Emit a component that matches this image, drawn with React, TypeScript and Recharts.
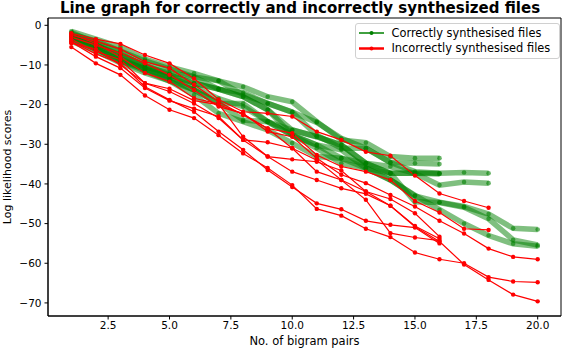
import React from "react";
import { LineChart, Line, XAxis, YAxis, ReferenceArea } from "recharts";

const X_VALUES = [1, 2, 3, 4, 5, 6, 7, 8, 9, 10, 11, 12, 13, 14, 15, 16, 17, 18, 19, 20];
const X_TICKS = [2.5, 5, 7.5, 10, 12.5, 15, 17.5, 20];
const Y_TICKS = [0, -10, -20, -30, -40, -50, -60, -70];

// Correctly synthesised files
const G1 = [-1.5, -3.5, -5.5, -8.5, -10.5, -12.1, -14.0, -15.5, -18.0, -19.3, -24.3, -28.9, -29.6, -33.1, -33.5, -33.5];
const G2 = [-2.2, -4.0, -6.5, -9.0, -11.0, -13.0, -16.1, -17.0, -19.7, -21.9, -24.5, -28.5, -31.0, -34.6, -34.8, -35.0];
const G3 = [-3.0, -5.0, -7.5, -10.0, -12.5, -14.6, -16.1, -18.0, -21.3, -26.4, -28.1, -30.2, -34.8, -37.3, -37.3, -37.3];
const G4 = [-2.5, -5.5, -8.5, -11.0, -13.5, -16.3, -19.7, -19.7, -24.3, -27.7, -30.2, -33.5, -36.0, -37.3, -37.3, -37.5];
const G5 = [-1.8, -4.5, -7.0, -10.5, -12.0, -13.0, -14.0, -17.5, -19.7, -21.9, -27.7, -31.0, -31.0, -34.6, -36.9, -37.3, -37.1, -37.3];
const G6 = [-3.5, -6.0, -9.0, -11.5, -14.0, -16.3, -19.7, -23.9, -24.3, -26.4, -28.1, -30.2, -34.8, -35.6, -37.3, -40.3, -39.5, -39.8];
const G7 = [-2.8, -5.0, -8.0, -10.5, -12.5, -14.6, -16.1, -18.0, -21.3, -27.7, -30.2, -31.4, -36.0, -39.0, -43.0, -44.6, -45.7, -47.6, -51.2, -51.5];
const G8 = [-4.0, -6.5, -9.5, -12.0, -14.0, -17.6, -22.2, -24.3, -26.4, -29.7, -33.1, -33.5, -34.8, -37.3, -44.5, -44.7, -45.9, -48.8, -54.1, -55.4];
const G9 = [-3.2, -6.0, -9.0, -11.0, -13.0, -15.5, -18.5, -20.5, -24.3, -27.7, -31.0, -34.8, -36.0, -39.0, -42.9, -46.5, -50.0, -53.0, -55.1, -55.7];

// Incorrectly synthesised files
const R1 = [-2.0, -3.5, -4.7, -7.5, -9.6, -13.4, -18.7, -21.8, -22.2, -23.0, -26.8, -28.9, -31.9, -32.9, -37.9, -42.4, -44.3, -46.0];
const R2 = [-2.5, -4.0, -6.0, -9.2, -10.8, -15.0, -19.3, -22.6, -26.0, -27.2, -32.7, -35.6, -36.9, -39.0, -44.3, -47.2, -51.3, -51.6];
const R3 = [-3.0, -5.0, -7.0, -9.6, -12.5, -16.3, -20.5, -22.2, -26.8, -28.1, -33.5, -37.7, -39.8, -42.8, -45.7, -49.3, -52.5, -56.3, -58.4, -59.0];
const R4 = [-2.2, -4.6, -8.0, -12.0, -14.2, -18.4, -19.8, -28.1, -33.1, -33.8, -34.4, -36.6, -41.9, -43.8, -47.4, -53.3];
const R5 = [-3.5, -6.6, -8.7, -14.6, -16.7, -19.7, -23.4, -28.9, -33.1, -36.9, -39.0, -41.1, -42.5, -45.5, -50.8, -54.5, -60.3, -64.2, -67.9, -69.6];
const R6 = [-4.0, -7.2, -9.6, -15.5, -18.8, -21.8, -26.8, -31.4, -36.5, -40.8, -44.9, -46.4, -49.3, -50.3, -51.0, -55.0];
const R7 = [-5.5, -9.6, -12.5, -17.7, -21.3, -23.4, -27.7, -32.3, -36.0, -40.3, -46.3, -48.0, -51.3, -53.4, -57.3, -59.0, -60.0, -63.5, -64.6, -64.8];
const R8 = [-4.5, -6.0, -10.0, -14.6, -16.0, -19.0, -20.0, -22.4, -26.0, -31.0, -36.9, -39.0, -44.0, -52.4, -53.5, -54.3];
const R9 = [-4.2, -7.9, -10.8, -15.8, -19.0, -21.0, -23.0, -28.9, -29.5, -31.0, -34.0, -39.0, -41.9, -45.5, -50.6, -53.8];

const GREEN_SERIES = [G1, G2, G3, G4, G5, G6, G7, G8, G9];
const RED_SERIES = [R1, R2, R3, R4, R5, R6, R7, R8, R9];

const rows = X_VALUES.map((x, i) => {
  const row: Record<string, number> = { x };
  GREEN_SERIES.forEach((s, k) => {
    if (i < s.length) row["g" + k] = s[i];
  });
  RED_SERIES.forEach((s, k) => {
    if (i < s.length) row["r" + k] = s[i];
  });
  return row;
});

const FONT = "'DejaVu Sans', sans-serif";
const X_DOMAIN: [number, number] = [0.05, 20.95];
const Y_DOMAIN: [number, number] = [-73.3, 1.84];

const fmtY = (v: number) => (v < 0 ? "\u2212" + Math.abs(v) : String(v));

const YLabel = (props: any) => {
  const vb = props.viewBox || {};
  const cy = (vb.y || 0) + (vb.height || 0) / 2;
  return (
    <text
      x={7.5}
      y={cy}
      transform={`rotate(-90, 7.5, ${cy})`}
      textAnchor="middle"
      dominantBaseline="central"
      fontFamily={FONT}
      fontSize={11}
      fill="#000"
    >
      Log likelihood scores
    </text>
  );
};

const XLabel = (props: any) => {
  const vb = props.viewBox || {};
  const cx = (vb.x || 0) + (vb.width || 0) / 2;
  return (
    <text x={cx} y={345} textAnchor="middle" fontFamily={FONT} fontSize={11.5} fill="#000">
      No. of bigram pairs
    </text>
  );
};

export default function App() {
  return (
    <div
      style={{
        position: "absolute",
        left: 0,
        top: 0,
        width: 562,
        height: 348,
        overflow: "hidden",
        background: "#fff",
        fontFamily: FONT,
      }}
    >
      <LineChart width={562} height={348} data={rows} margin={{ top: 18, right: 1, left: 0, bottom: 0 }}>
        <XAxis
          dataKey="x"
          type="number"
          domain={X_DOMAIN}
          allowDataOverflow
          ticks={X_TICKS}
          tickFormatter={(v: number) => v.toFixed(1)}
          height={32}
          tickSize={3.5}
          tickMargin={2}
          stroke="#000"
          tick={{ fill: "#000", fontSize: 10.5, fontFamily: FONT }}
          label={<XLabel />}
        />
        <YAxis
          type="number"
          domain={Y_DOMAIN}
          allowDataOverflow
          ticks={Y_TICKS}
          tickFormatter={fmtY}
          width={48}
          tickSize={3.5}
          tickMargin={3}
          stroke="#000"
          tick={{ fill: "#000", fontSize: 10.5, fontFamily: FONT }}
          label={<YLabel />}
        />
        <ReferenceArea
          x1={X_DOMAIN[0]}
          x2={X_DOMAIN[1]}
          y1={Y_DOMAIN[0]}
          y2={Y_DOMAIN[1]}
          fill="none"
          stroke="#000"
          strokeWidth={1}
          ifOverflow="extendDomain"
        />
        {GREEN_SERIES.map((_, k) => (
          <Line
            key={"g" + k}
            dataKey={"g" + k}
            stroke="#008000"
            strokeOpacity={0.5}
            strokeWidth={5.5}
            dot={{ r: 2.3, fill: "#008000", fillOpacity: 0.6, stroke: "none" }}
            activeDot={false}
            isAnimationActive={false}
            type="linear"
          />
        ))}
        {RED_SERIES.map((_, k) => (
          <Line
            key={"r" + k}
            dataKey={"r" + k}
            stroke="#ff0000"
            strokeWidth={1.2}
            dot={{ r: 2.2, fill: "#ff0000", stroke: "none" }}
            activeDot={false}
            isAnimationActive={false}
            type="linear"
          />
        ))}
      </LineChart>
      <div
        style={{
          position: "absolute",
          left: 0,
          top: -1,
          width: 600,
          textAlign: "center",
          fontWeight: "bold",
          fontSize: 15,
          lineHeight: "18px",
          whiteSpace: "nowrap",
          color: "#000",
        }}
      >
        Line graph for correctly and incorrectly synthesized files
      </div>
      <div
        style={{
          position: "absolute",
          left: 355,
          top: 23,
          width: 205,
          height: 36,
          border: "1px solid #d0d0d0",
          borderRadius: 3,
          background: "rgba(255,255,255,0.8)",
          boxSizing: "border-box",
        }}
      >
        <svg width={30} height={36} style={{ position: "absolute", left: 2, top: 0 }}>
          <line x1={1} y1={9} x2={26} y2={9} stroke="#008000" strokeWidth={1.5} />
          <circle cx={13.5} cy={9} r={2} fill="#008000" />
          <line x1={1} y1={24.5} x2={26} y2={24.5} stroke="#ff0000" strokeWidth={2.5} />
          <circle cx={13.5} cy={24.5} r={2} fill="#ff0000" />
        </svg>
        <div style={{ position: "absolute", left: 35.5, top: 0.5, fontSize: 11.4, lineHeight: "16px", whiteSpace: "nowrap" }}>
          Correctly synthesised files
        </div>
        <div style={{ position: "absolute", left: 35.5, top: 16, fontSize: 11.4, lineHeight: "16px", whiteSpace: "nowrap" }}>
          Incorrectly synthesised files
        </div>
      </div>
    </div>
  );
}
